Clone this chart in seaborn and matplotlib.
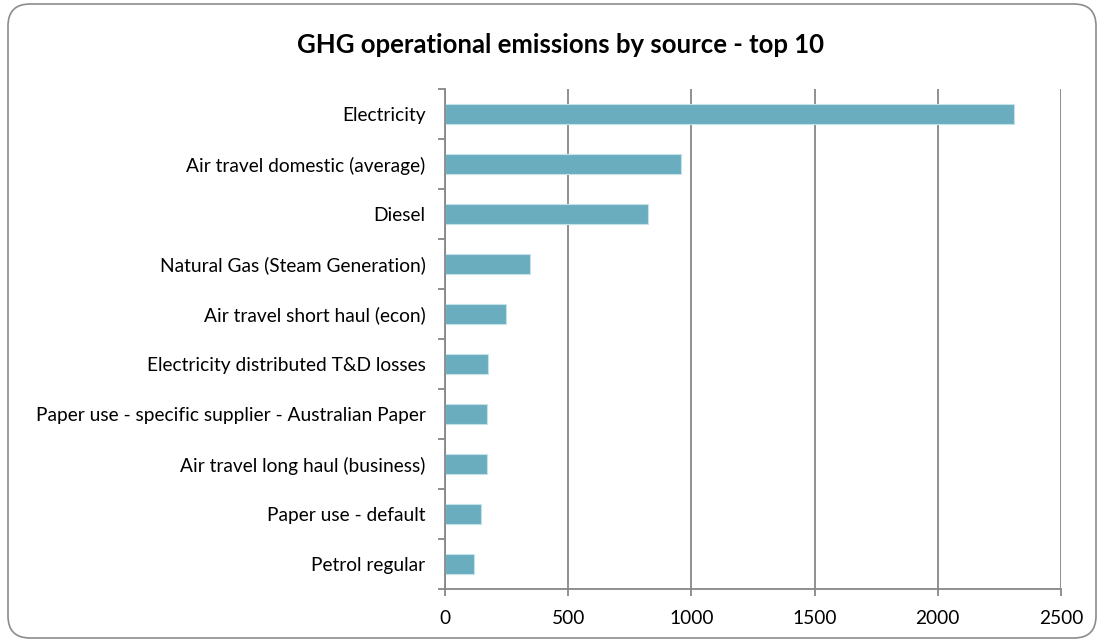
import numpy as np
import pandas as pd
import matplotlib
matplotlib.use("Agg")
import matplotlib.pyplot as plt
import seaborn as sns
from matplotlib.patches import FancyBboxPatch
from matplotlib.transforms import IdentityTransform

# data
sources = [
    "Electricity",
    "Air travel domestic (average)",
    "Diesel",
    "Natural Gas (Steam Generation)",
    "Air travel short haul (econ)",
    "Electricity distributed T&D losses",
    "Paper use - specific supplier - Australian Paper",
    "Air travel long haul (business)",
    "Paper use - default",
    "Petrol regular",
]
emissions = [2310, 958, 826, 347, 248, 174, 172, 169, 145, 116]
x_ticks = [0, 500, 1000, 1500, 2000, 2500]

df = pd.DataFrame({"source": sources, "emissions": emissions})

sns.set_style("white")
plt.rcParams["font.family"] = ["Lato", "DejaVu Sans"]
plt.rcParams["text.color"] = "black"
plt.rcParams["xtick.labelcolor"] = "black"
plt.rcParams["ytick.labelcolor"] = "black"

GRID = "#878787"
BAR = "#6aadbf"

fig = plt.figure(figsize=(11.03, 6.42), dpi=100)
ax = fig.add_axes([0.4034, 0.0826, 0.9619 - 0.4034, 0.8614 - 0.0826])

sns.barplot(data=df, x="emissions", y="source", orient="h", color=BAR,
            width=0.4, edgecolor="#c4e2ea", linewidth=0.8, saturation=1, ax=ax, zorder=3)

ax.set_xlim(0, 2500)
ax.set_ylim(9.5, -0.5)
ax.set_xticks(x_ticks)
ax.set_xticklabels([str(t) for t in x_ticks], fontsize=13.8)
ax.set_yticks(np.arange(-0.5, 10, 1), minor=True)
ax.tick_params(axis="y", which="major", left=True, length=0, pad=14, labelsize=13.8,
               labelcolor="black")
ax.tick_params(axis="y", which="minor", left=True, length=5, width=1.3, color=GRID, direction="out")
ax.tick_params(axis="x", which="major", bottom=True, length=5, width=1.3, color=GRID,
               direction="out", pad=10, labelcolor="black")
ax.set_xlabel("")
ax.set_ylabel("")

ax.grid(axis="x", color=GRID, linewidth=1.3, zorder=0)
ax.grid(axis="y", visible=False)
ax.set_axisbelow(True)
for side in ["top", "right"]:
    ax.spines[side].set_visible(False)
for side in ["left", "bottom"]:
    ax.spines[side].set_color(GRID)
    ax.spines[side].set_linewidth(1.3)
    ax.spines[side].set_zorder(4)

fig.text(0.508, 0.93, "GHG operational emissions by source - top 10",
         ha="center", va="center", fontsize=18.5, fontweight="bold", color="black")

# rounded chart border, in pixels
border = FancyBboxPatch((22, 18), 1060, 606, boxstyle="round,pad=14,rounding_size=22",
                        transform=IdentityTransform(), facecolor="none",
                        edgecolor="#8c8c8c", linewidth=1.2)
fig.patches.append(border)

fig.savefig("out.png", dpi=100)
